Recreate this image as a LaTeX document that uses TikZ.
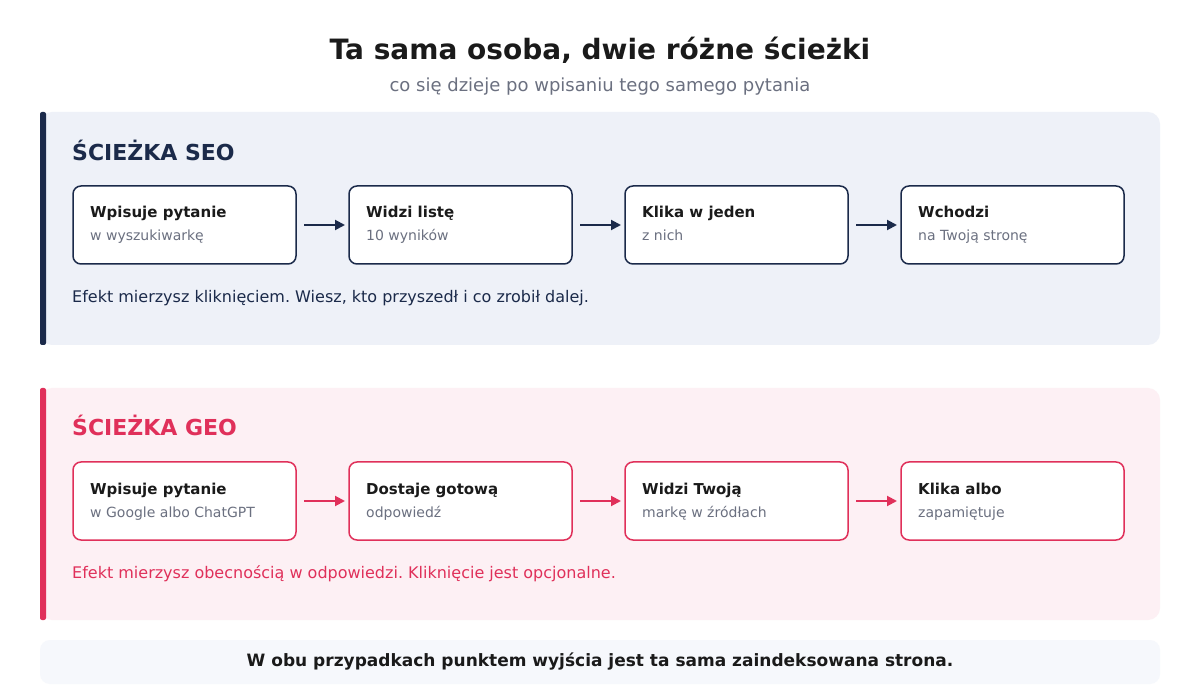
\documentclass[tikz,border=0pt]{standalone}
\usepackage{fontspec}
\setmainfont{DejaVu Sans}
\usetikzlibrary{arrows.meta,calc}
\definecolor{navy}{HTML}{1B2A4A}
\definecolor{seobg}{HTML}{EEF1F8}
\definecolor{geored}{HTML}{E0305A}
\definecolor{geobg}{HTML}{FDF0F4}
\definecolor{footbg}{HTML}{F6F8FC}
\definecolor{greyt}{HTML}{6B7080}
\definecolor{dark}{HTML}{1A1A1A}
\frenchspacing
\begin{document}
\begin{tikzpicture}[x=1pt,y=-1pt,
  step/.style={draw=#1,line width=1.5pt,fill=white,rounded corners=8pt},
  ttl/.style={anchor=west,font=\fontsize{15}{17}\selectfont\bfseries,text=dark,inner sep=0},
  sub/.style={anchor=west,font=\fontsize{14}{16}\selectfont,text=greyt,inner sep=0},
  arr/.style={-{Triangle[length=10pt,width=10pt]},line width=2pt,draw=#1}]
\useasboundingbox (0,0) rectangle (1200,700);
\fill[white] (0,0) rectangle (1200,700);
\node (title) at (600,50) {\fontsize{28}{32}\selectfont\bfseries\color{dark}Ta sama osoba, dwie różne ścieżki};
\node (subt) at (600,87) {\fontsize{18}{21}\selectfont\color{greyt}co się dzieje po wpisaniu tego samego pytania};
% SEO panel
\fill[seobg,rounded corners=12pt] (40,112) rectangle (1160,345);
\fill[navy,rounded corners=2pt] (40,112) rectangle (46,345);
\node[anchor=west,inner sep=0,text=navy,font=\fontsize{22}{25}\selectfont\bfseries] (hseo) at (72,150) {ŚCIEŻKA SEO};
% GEO panel
\fill[geobg,rounded corners=12pt] (40,388) rectangle (1160,620);
\fill[geored,rounded corners=2pt] (40,388) rectangle (46,620);
\node[anchor=west,inner sep=0,text=geored,font=\fontsize{22}{25}\selectfont\bfseries] (hgeo) at (72,425) {ŚCIEŻKA GEO};
% boxes
\foreach \i/\x/\t/\s in {1/73/Wpisuje pytanie/w wyszukiwarkę,2/349/Widzi listę/10 wyników,3/625/Klika w jeden/z nich,4/901/Wchodzi/na Twoją stronę}{
  \draw[step=navy] (\x,186) rectangle (\x+223,264);
  \node[ttl,anchor=base west] (st\i) at (\x+17,218) {\t};
  \node[sub,anchor=base west] (ss\i) at (\x+17,241) {\s};
}
\foreach \i/\x/\t/\s in {1/73/Wpisuje pytanie/w Google albo ChatGPT,2/349/Dostaje gotową/odpowiedź,3/625/Widzi Twoją/markę w źródłach,4/901/Klika albo/zapamiętuje}{
  \draw[step=geored] (\x,462) rectangle (\x+223,540);
  \node[ttl,anchor=base west] (gt\i) at (\x+17,494) {\t};
  \node[sub,anchor=base west] (gs\i) at (\x+17,517) {\s};
}
\foreach \x in {304,580,856}{
  \coordinate (sa\x) at (\x,225); \coordinate (sb\x) at (\x+41,225);
  \coordinate (ga\x) at (\x,501); \coordinate (gb\x) at (\x+41,501);
  \draw[arr=navy] (sa\x) -- (sb\x);
  \draw[arr=geored] (ga\x) -- (gb\x);
}
\node[anchor=west,inner sep=0,text=navy,font=\fontsize{16}{19}\selectfont] (eseo) at (72,298) {Efekt mierzysz kliknięciem. Wiesz, kto przyszedł i co zrobił dalej.};
\node[anchor=west,inner sep=0,text=geored,font=\fontsize{16}{19}\selectfont] (egeo) at (72,574) {Efekt mierzysz obecnością w odpowiedzi. Kliknięcie jest opcjonalne.};
% footer
\fill[footbg,rounded corners=10pt] (40,640) rectangle (1160,684);
\node[text=dark,font=\fontsize{17}{20}\selectfont\bfseries] (foot) at (600,662) {W obu przypadkach punktem wyjścia jest ta sama zaindeksowana strona.};
\end{tikzpicture}
\end{document}
